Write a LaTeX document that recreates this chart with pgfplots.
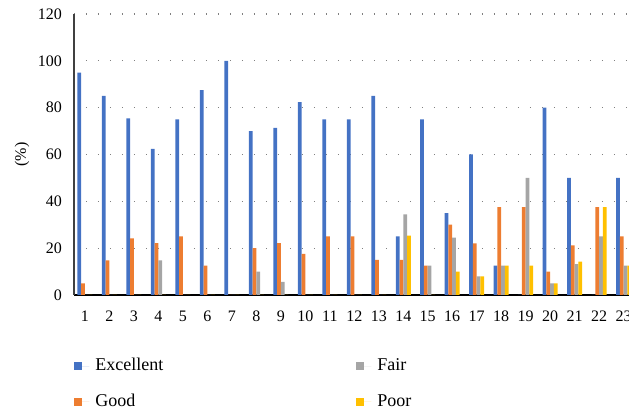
\documentclass[border=0pt]{standalone}
\usepackage{fontspec}
\setmainfont{Liberation Serif}
\usepackage{pgfplots}
\pgfplotsset{compat=1.18}
\usepackage{pgfplotstable}
\definecolor{cE}{HTML}{4472C4}
\definecolor{cG}{HTML}{ED7D31}
\definecolor{cF}{HTML}{A5A5A5}
\definecolor{cP}{HTML}{FFC000}
\pgfplotsset{sqleg/.style={legend image code/.code={\fill[##1] (0pt,-2pt) rectangle (4pt,2pt); \path (0pt,0pt) -- (7.5pt,0pt);}}}
\pgfplotstableread{
x E G F P
1 95 5 0 0
2 85 14.8 0 0
3 75.4 24.2 0 0
4 62.4 22.1 14.8 0
5 75 25 0 0
6 87.5 12.5 0 0
7 100 0 0 0
8 70 20 10 0
9 71.4 22.1 5.6 0
10 82.4 17.6 0 0
11 75 25 0 0
12 75 25 0 0
13 85 15 0 0
14 25 15 34.4 25.4
15 75 12.5 12.5 0
16 35 30 24.5 10
17 60 22 8 8
18 12.5 37.5 12.5 12.5
19 0 37.5 50 12.5
20 80 10 5 5
21 50 21.2 13.2 14.2
22 0 37.5 25 37.5
23 50 25 12.5 12.5
}\data
\begin{document}
\begin{tikzpicture}
\useasboundingbox (0,0) rectangle (314.5pt,205pt);
\clip (0,0) rectangle (314.5pt,205pt);
\begin{axis}[
  at={(37pt,57.5pt)}, anchor=south west,
  scale only axis, width=280.3pt, height=140.5pt,
  xmin=0.551, xmax=23.45, ymin=0, ymax=120,
  ybar=0pt, bar width=1.875pt,
  every axis plot post/.append style={sqleg},
  axis x line*=bottom, axis y line*=left,
  x axis line style={-, black, line width=0.7pt},
  y axis line style={-, black!75, line width=0.6pt},
  xtick={1,...,23}, ytick={0,20,...,120},
  major tick length=0pt,
  ymajorgrids,
  major grid style={draw=black!50, line width=0.65pt, dash pattern=on 0.65pt off 5.35pt},
  tick label style={font=\fontsize{8}{10}\selectfont},
  /pgf/number format/assume math mode=true,
  xticklabel style={yshift=-4.5pt},
  yticklabel style={xshift=-2.5pt},
  ylabel={(\%)},
  every axis y label/.style={at={(axis description cs:0,0.5)}, xshift=-26pt, rotate=90, anchor=center, font=\fontsize{8}{10}\selectfont},
  legend columns=2, transpose legend, legend cell align=left,
  legend style={draw=none, fill=none, at={(0,0)}, anchor=south west, yshift=-60.5pt, inner sep=0pt, nodes={inner sep=3pt}, font=\fontsize{9}{11}\selectfont, row sep=4.1pt, /tikz/every even column/.append style={column sep=93.5pt}},
]
\addplot[fill=cE, draw=none] table[x=x, y=E] {\data};
\addplot[fill=cG, draw=none] table[x=x, y=G] {\data};
\addplot[fill=cF, draw=none] table[x=x, y=F] {\data};
\addplot[fill=cP, draw=none] table[x=x, y=P] {\data};
\legend{Excellent,Good,Fair,Poor}
\end{axis}
\end{tikzpicture}
\end{document}
